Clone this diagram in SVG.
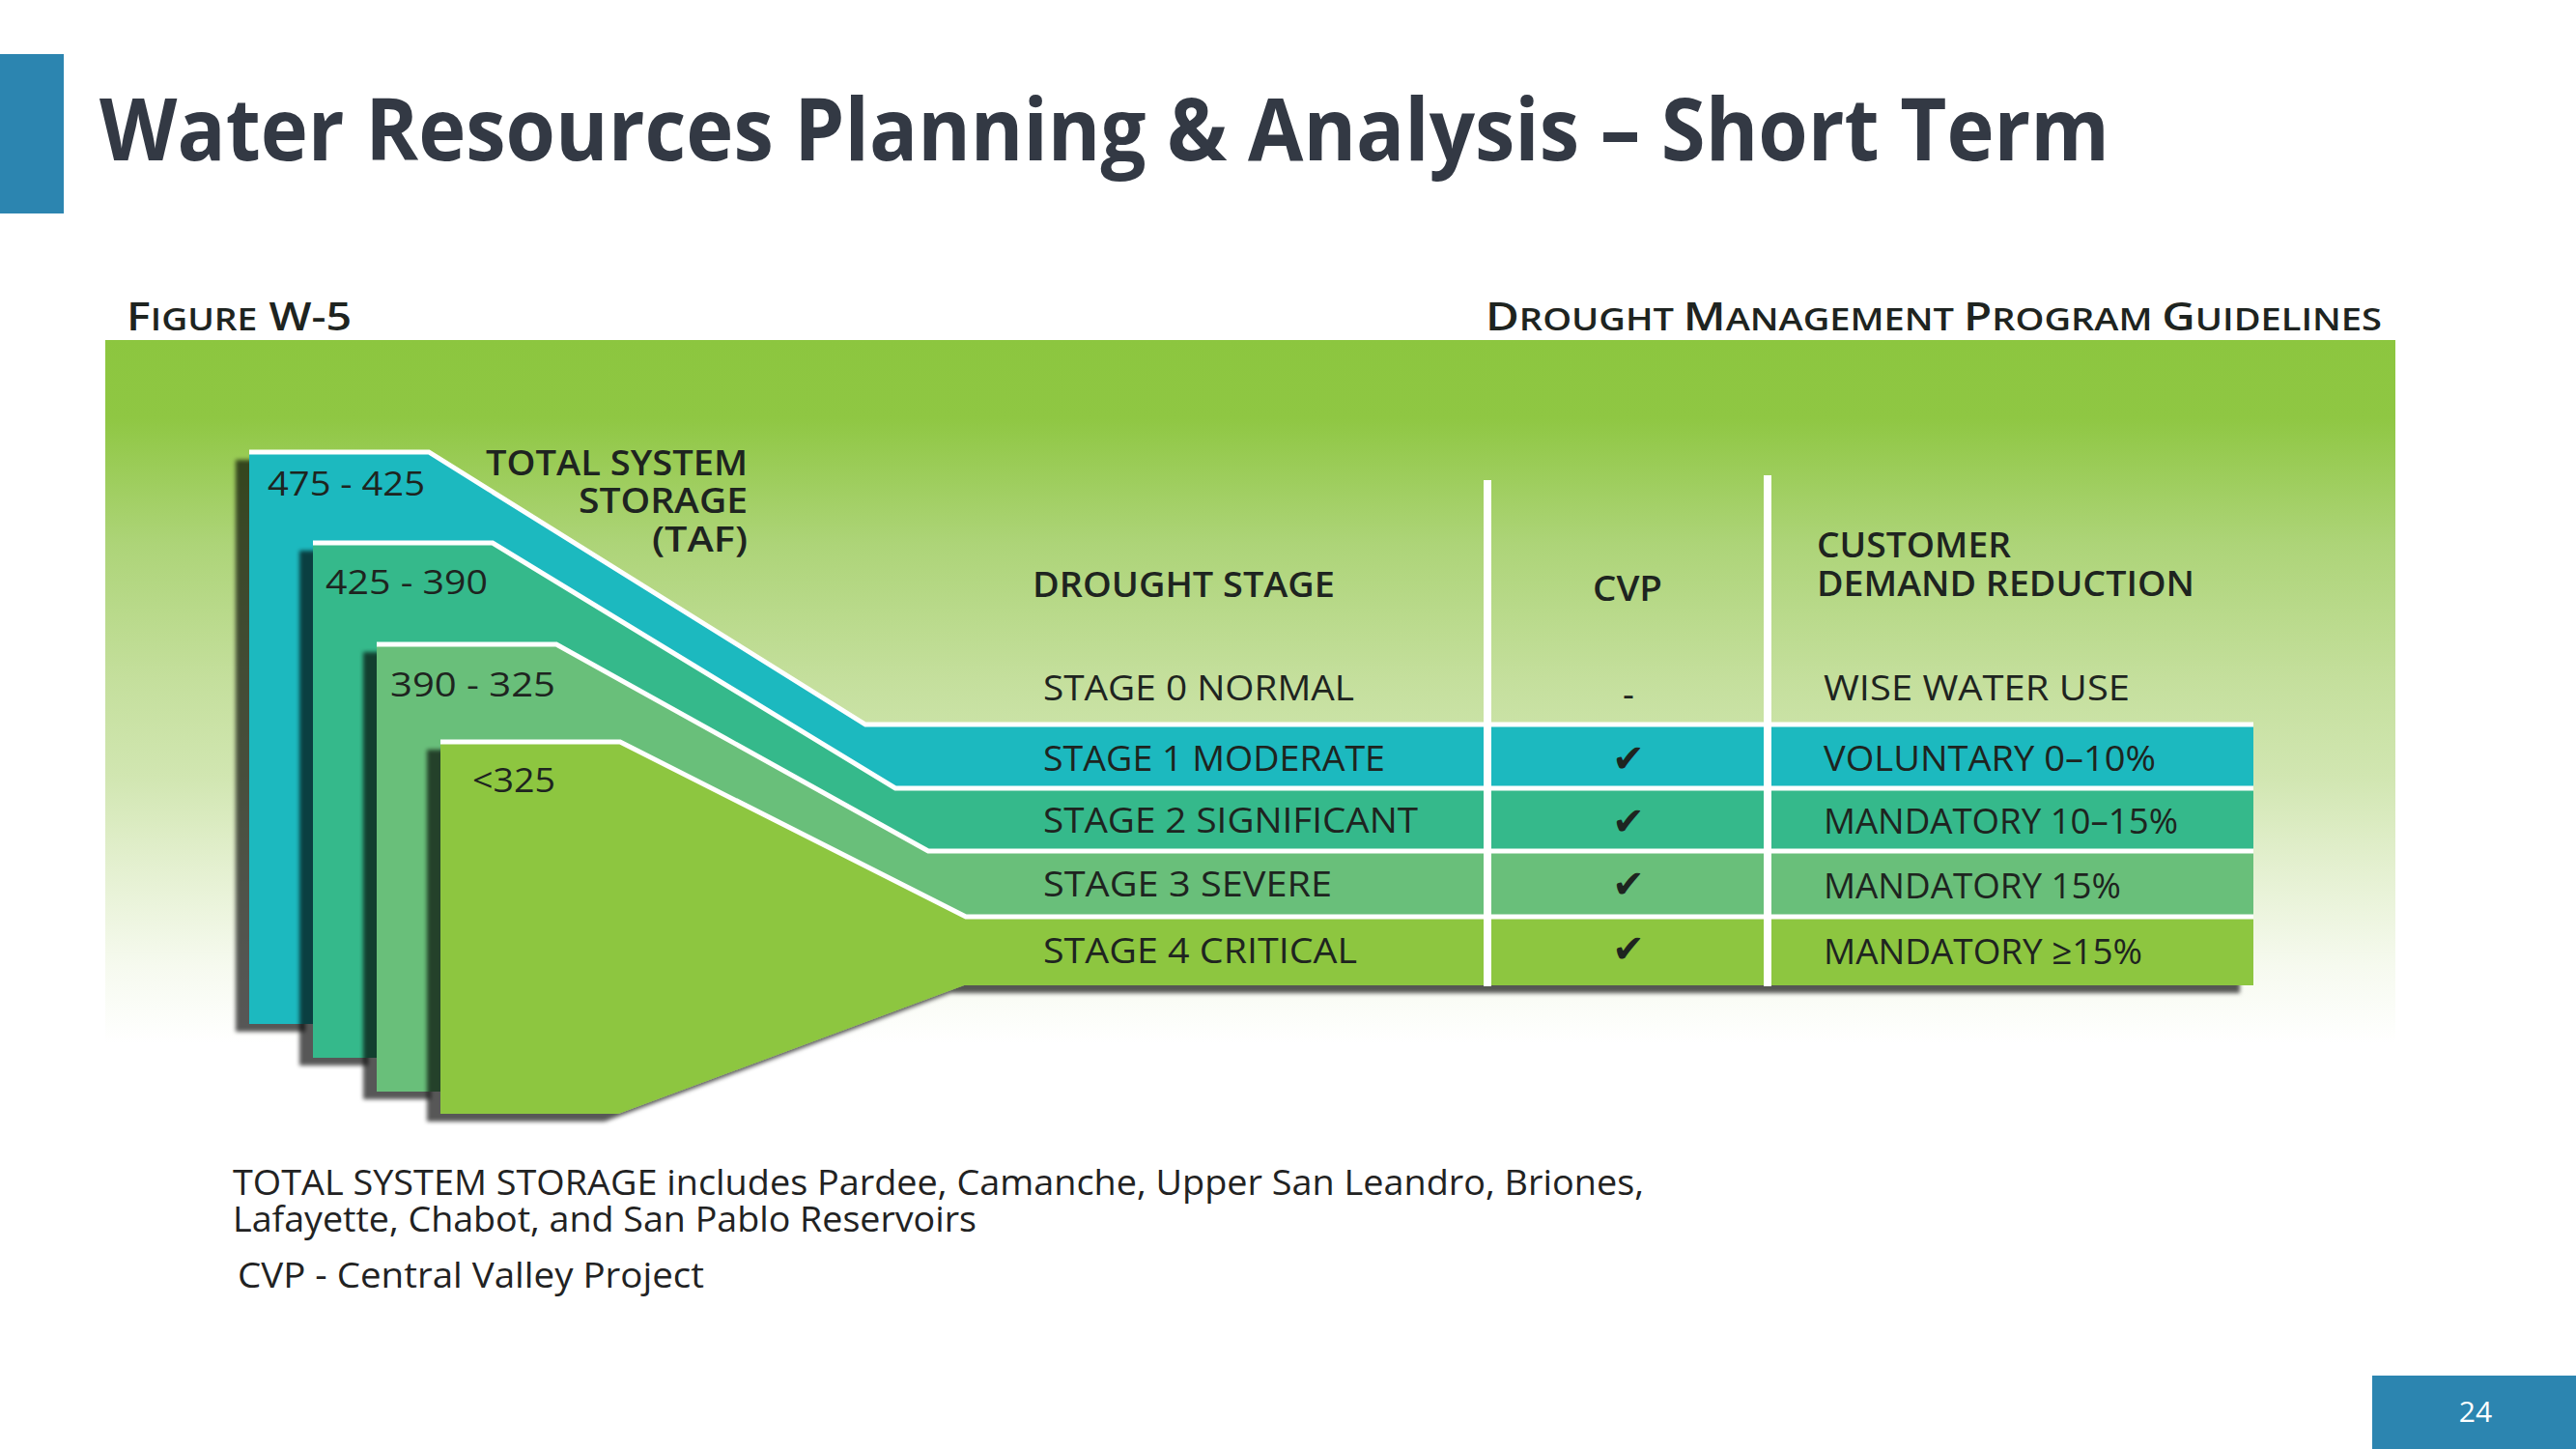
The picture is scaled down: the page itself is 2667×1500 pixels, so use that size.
<svg xmlns="http://www.w3.org/2000/svg" width="2667" height="1500" viewBox="0 0 2667 1500">
  <defs>
    <linearGradient id="panelFill" x1="0" y1="352" x2="0" y2="1080" gradientUnits="userSpaceOnUse">
      <stop offset="0" stop-color="#8cc63f"/>
      <stop offset="0.11" stop-color="#8fc743"/>
      <stop offset="0.29" stop-color="#add478"/>
      <stop offset="0.48" stop-color="#c4df9c"/>
      <stop offset="0.62" stop-color="#d1e6b1"/>
      <stop offset="0.75" stop-color="#e4f0d0"/>
      <stop offset="0.89" stop-color="#f6faef"/>
      <stop offset="1" stop-color="#ffffff"/>
    </linearGradient>
    <filter id="dropShadow" x="-10%" y="-10%" width="125%" height="125%">
      <feDropShadow dx="-14" dy="8" stdDeviation="2.2" flood-color="#000" flood-opacity="0.66"/>
    </filter>
  </defs>
  <style>
    .title { font-family: "Open Sans", "Liberation Sans", sans-serif; font-weight: 700; fill: #333944; }
    .fig { font-family: "Open Sans", "Liberation Sans", sans-serif; fill: #1e2420; }
    .caps { font-weight: 600; }
    .head { font-weight: 600; font-size: 36px; }
    .row { font-weight: 400; font-size: 37px; }
    .range { font-weight: 400; font-size: 35px; }
    .note { font-family: "Open Sans", "Liberation Sans", sans-serif; font-size: 37px; fill: #222; }
    .check { font-family: "DejaVu Sans", sans-serif; font-size: 40px; font-weight: 700; fill: #1e2420; text-anchor: middle; }
    .edge { fill: none; stroke: #ffffff; stroke-width: 5; stroke-linejoin: miter; }
    .divider { fill: #ffffff; }
  </style>

  <rect width="2667" height="1500" fill="#ffffff"/>

  <!-- slide header -->
  <g id="header">
    <rect x="0" y="56" width="66" height="165" fill="#2c85b0"/>
    <text class="title" x="103" y="166" font-size="90" textLength="2081" lengthAdjust="spacingAndGlyphs">Water Resources Planning &amp; Analysis – Short Term</text>
  </g>

  <!-- figure captions -->
  <g id="figure-captions" class="fig caps">
    <text x="131" y="342" font-size="40" textLength="233" lengthAdjust="spacingAndGlyphs"><tspan>F</tspan><tspan font-size="32">IGURE</tspan><tspan> W-5</tspan></text>
    <text x="1538" y="342" font-size="40" textLength="928" lengthAdjust="spacingAndGlyphs"><tspan>D</tspan><tspan font-size="32">ROUGHT </tspan><tspan>M</tspan><tspan font-size="32">ANAGEMENT </tspan><tspan>P</tspan><tspan font-size="32">ROGRAM </tspan><tspan>G</tspan><tspan font-size="32">UIDELINES</tspan></text>
  </g>

  <!-- green backdrop -->
  <rect id="panel" x="109" y="352" width="2371" height="728" fill="url(#panelFill)"/>

  <!-- storage bands, outermost first -->
  <g id="storage-475-425">
    <polygon points="258,468 444,468 896,750 2333,750 2333,830 330,830 330,1060 258,1060" fill="#1fb9bf" filter="url(#dropShadow)"/>
    <polyline class="edge" points="258,468 444,468 896,750 2333,750"/>
    <text class="fig range" x="277" y="513" textLength="163" lengthAdjust="spacingAndGlyphs">475 - 425</text>
  </g>
  <g id="storage-425-390">
    <polygon points="324,562 510,562 927,816 2333,816 2333,895 395,895 395,1095 324,1095" fill="#36b98b" filter="url(#dropShadow)"/>
    <polyline class="edge" points="324,562 510,562 927,816 2333,816"/>
    <text class="fig range" x="337" y="615" textLength="168" lengthAdjust="spacingAndGlyphs">425 - 390</text>
  </g>
  <g id="storage-390-325">
    <polygon points="390,667 576,667 961,881 2333,881 2333,960 460,960 460,1130 390,1130" fill="#69bf7a" filter="url(#dropShadow)"/>
    <polyline class="edge" points="390,667 576,667 961,881 2333,881"/>
    <text class="fig range" x="404" y="721" textLength="171" lengthAdjust="spacingAndGlyphs">390 - 325</text>
  </g>
  <g id="storage-under-325">
    <polygon points="456,768 642,768 1000,949 2333,949 2333,1020 998,1020 640,1153 456,1153" fill="#8dc63f" filter="url(#dropShadow)"/>
    <polyline class="edge" points="456,768 642,768 1000,949 2333,949"/>
    <text class="fig range" x="489" y="820" textLength="86" lengthAdjust="spacingAndGlyphs">&lt;325</text>
  </g>

  <!-- storage axis label -->
  <g id="storage-label" class="fig head" text-anchor="end">
    <text x="774" y="492" textLength="271" lengthAdjust="spacingAndGlyphs">TOTAL SYSTEM</text>
    <text x="774" y="531" textLength="175" lengthAdjust="spacingAndGlyphs">STORAGE</text>
    <text x="774" y="571" textLength="99" lengthAdjust="spacingAndGlyphs">(TAF)</text>
  </g>

  <!-- table column dividers -->
  <g id="dividers">
    <rect class="divider" x="1536" y="497" width="8" height="524"/>
    <rect class="divider" x="1826" y="492" width="8" height="529"/>
  </g>

  <!-- table headings -->
  <g id="table-headings" class="fig head">
    <text x="1069" y="618" textLength="313" lengthAdjust="spacingAndGlyphs">DROUGHT STAGE</text>
    <text x="1649" y="622" textLength="72" lengthAdjust="spacingAndGlyphs">CVP</text>
    <text x="1881" y="577" textLength="201" lengthAdjust="spacingAndGlyphs">CUSTOMER</text>
    <text x="1881" y="617" textLength="391" lengthAdjust="spacingAndGlyphs">DEMAND REDUCTION</text>
  </g>

  <!-- table rows -->
  <g id="stage-0" class="fig row">
    <text x="1080" y="725" textLength="322" lengthAdjust="spacingAndGlyphs">STAGE 0 NORMAL</text>
    <text x="1686" y="732" text-anchor="middle">-</text>
    <text x="1888" y="725" textLength="317" lengthAdjust="spacingAndGlyphs">WISE WATER USE</text>
  </g>
  <g id="stage-1" class="fig row">
    <text x="1080" y="798" textLength="354" lengthAdjust="spacingAndGlyphs">STAGE 1 MODERATE</text>
    <text class="check" x="1686" y="799">✔</text>
    <text x="1888" y="798" textLength="344" lengthAdjust="spacingAndGlyphs">VOLUNTARY 0–10%</text>
  </g>
  <g id="stage-2" class="fig row">
    <text x="1080" y="862" textLength="388" lengthAdjust="spacingAndGlyphs">STAGE 2 SIGNIFICANT</text>
    <text class="check" x="1686" y="864">✔</text>
    <text x="1888" y="863" textLength="367" lengthAdjust="spacingAndGlyphs">MANDATORY 10–15%</text>
  </g>
  <g id="stage-3" class="fig row">
    <text x="1080" y="928" textLength="299" lengthAdjust="spacingAndGlyphs">STAGE 3 SEVERE</text>
    <text class="check" x="1686" y="929">✔</text>
    <text x="1888" y="930" textLength="308" lengthAdjust="spacingAndGlyphs">MANDATORY 15%</text>
  </g>
  <g id="stage-4" class="fig row">
    <text x="1080" y="997" textLength="325" lengthAdjust="spacingAndGlyphs">STAGE 4 CRITICAL</text>
    <text class="check" x="1686" y="996">✔</text>
    <text x="1888" y="998" textLength="330" lengthAdjust="spacingAndGlyphs">MANDATORY ≥15%</text>
  </g>

  <!-- footnotes -->
  <g id="notes" class="note">
    <text x="241" y="1237" textLength="1461" lengthAdjust="spacingAndGlyphs">TOTAL SYSTEM STORAGE includes Pardee, Camanche, Upper San Leandro, Briones,</text>
    <text x="241" y="1275" textLength="770" lengthAdjust="spacingAndGlyphs">Lafayette, Chabot, and San Pablo Reservoirs</text>
    <text x="246" y="1333" textLength="483" lengthAdjust="spacingAndGlyphs">CVP - Central Valley Project</text>
  </g>

  <!-- page number -->
  <g id="page-number">
    <rect x="2456" y="1424" width="211" height="76" fill="#2c85b0"/>
    <text x="2563" y="1472" font-family="'Open Sans', 'Liberation Sans', sans-serif" font-size="30" fill="#ffffff" text-anchor="middle">24</text>
  </g>
</svg>
